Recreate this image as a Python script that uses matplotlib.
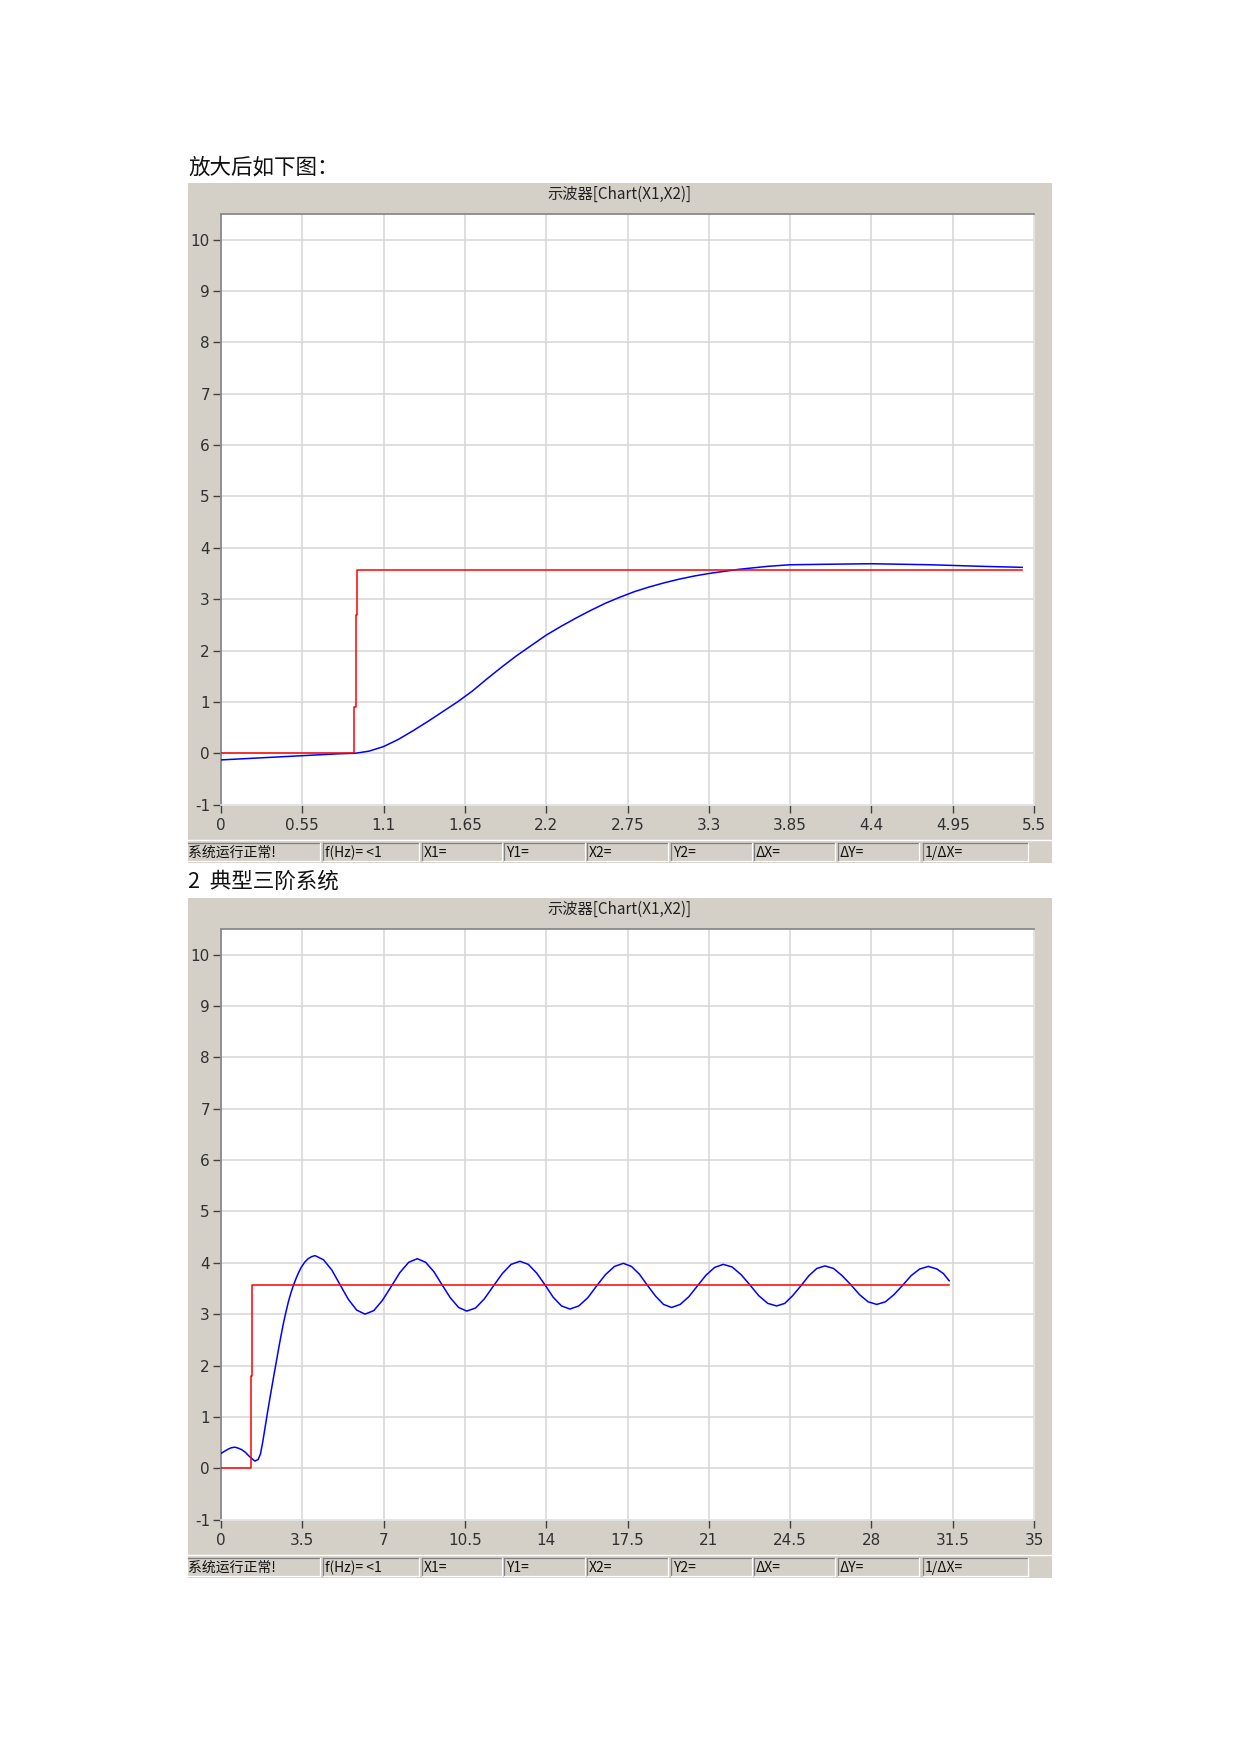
import matplotlib
matplotlib.use("Agg")
import matplotlib.pyplot as plt
from matplotlib.patches import Rectangle
from matplotlib.lines import Line2D

# ---------------- data ----------------
heading1 = "放大后如下图："
heading2 = "2  典型三阶系统"
chart_title = "示波器[Chart(X1,X2)]"
status_labels = ["系统运行正常!", "f(Hz)= <1", "X1=", "Y1=", "X2=", "Y2=", "ΔX=", "ΔY=", "1/ΔX="]

y_ticks = [-1, 0, 1, 2, 3, 4, 5, 6, 7, 8, 9, 10]
x1_ticks = [0, 0.55, 1.1, 1.65, 2.2, 2.75, 3.3, 3.85, 4.4, 4.95, 5.5]
x1_ticklabels = ["0", "0.55", "1.1", "1.65", "2.2", "2.75", "3.3", "3.85", "4.4", "4.95", "5.5"]
x2_ticks = [0, 3.5, 7, 10.5, 14, 17.5, 21, 24.5, 28, 31.5, 35]
x2_ticklabels = ["0", "3.5", "7", "10.5", "14", "17.5", "21", "24.5", "28", "31.5", "35"]

# chart 1 : input step (red) and response (blue)
red1_t = [0, 0.90, 0.91, 0.92, 5.42]
red1_y = [0, 0.9, 2.7, 3.57, 3.57]
blue1_t = [0, 0.2, 0.4, 0.6, 0.8, 0.91, 1.0, 1.1, 1.2, 1.3, 1.4, 1.5, 1.6, 1.7, 1.8,
           1.9, 2.0, 2.1, 2.2, 2.3, 2.4, 2.5, 2.6, 2.7, 2.8, 2.9, 3.0, 3.1, 3.2, 3.3,
           3.4, 3.5, 3.6, 3.7, 3.85, 4.1, 4.4, 4.8, 5.14, 5.42]
blue1_y = [-0.13, -0.10, -0.07, -0.04, -0.01, 0.0, 0.04, 0.13, 0.27, 0.44, 0.62, 0.81,
           1.00, 1.21, 1.45, 1.68, 1.90, 2.10, 2.30, 2.47, 2.63, 2.78, 2.92, 3.04,
           3.15, 3.24, 3.32, 3.39, 3.45, 3.50, 3.54, 3.58, 3.61, 3.64, 3.67, 3.68,
           3.69, 3.67, 3.64, 3.62]

# chart 2 : input step (red) and third-order response (blue)
red2_t = [0, 1.28, 1.35, 31.35]
red2_y = [0, 1.79, 3.57, 3.57]
blue2_t = [0, 0.15, 0.3, 0.45, 0.6, 0.75, 0.9, 1.05, 1.2, 1.32, 1.46,
           1.6, 1.7, 1.8, 1.9, 2.0, 2.1, 2.2, 2.3, 2.4, 2.5, 2.6, 2.7, 2.8, 2.9,
           3.0, 3.1, 3.2, 3.32, 3.45, 3.6, 3.75, 3.9, 4.05,
           4.41, 4.77, 5.13, 5.48, 5.84, 6.20,
           6.58, 6.95, 7.33, 7.70, 8.08, 8.45,
           8.81, 9.16, 9.52, 9.87, 10.23, 10.58,
           10.96, 11.34, 11.73, 12.11, 12.49, 12.87,
           13.23, 13.59, 13.95, 14.30, 14.66, 15.02,
           15.40, 15.79, 16.17, 16.55, 16.94, 17.32,
           17.67, 18.01, 18.36, 18.71, 19.05, 19.40,
           19.77, 20.14, 20.51, 20.88, 21.25, 21.62,
           22.00, 22.39, 22.77, 23.15, 23.54, 23.92,
           24.27, 24.61, 24.96, 25.31, 25.65, 26.00,
           26.37, 26.74, 27.12, 27.49, 27.86, 28.23,
           28.60, 28.97, 29.34, 29.71, 30.08, 30.45,
           30.82, 31.10, 31.35]
blue2_y = [0.29, 0.33, 0.37, 0.40, 0.41, 0.39, 0.36, 0.31, 0.24, 0.19, 0.14,
           0.17, 0.28, 0.52, 0.80, 1.08, 1.35, 1.61, 1.87, 2.12, 2.38, 2.62, 2.85,
           3.05, 3.24, 3.40, 3.54, 3.66, 3.79, 3.91, 4.01, 4.08, 4.12, 4.14,
           4.06, 3.86, 3.57, 3.29, 3.08, 3.00,
           3.07, 3.27, 3.54, 3.81, 4.01, 4.08,
           4.01, 3.83, 3.57, 3.32, 3.13, 3.06,
           3.12, 3.30, 3.55, 3.79, 3.97, 4.03,
           3.97, 3.80, 3.57, 3.33, 3.16, 3.10,
           3.16, 3.32, 3.55, 3.77, 3.93, 3.99,
           3.93, 3.78, 3.56, 3.35, 3.19, 3.13,
           3.19, 3.34, 3.55, 3.76, 3.91, 3.97,
           3.92, 3.77, 3.57, 3.36, 3.21, 3.16,
           3.21, 3.36, 3.55, 3.75, 3.89, 3.94,
           3.89, 3.75, 3.57, 3.38, 3.24, 3.19,
           3.24, 3.38, 3.56, 3.75, 3.88, 3.93,
           3.88, 3.79, 3.65]

# ---------------- layout ----------------
W, H = 1241, 1754
DPI = 100
fig = plt.figure(figsize=(W / DPI, H / DPI), dpi=DPI)
fig.patch.set_facecolor("white")

PANEL = "#d4d0c8"
CJK = ["Noto Sans CJK SC", "DejaVu Sans"]


def fx(x):
    return x / W


def fy(y):
    return 1 - y / H


def rect(x0, y0, x1, y1, **kw):
    fig.add_artist(Rectangle((fx(x0), fy(y1)), fx(x1) - fx(x0), fy(y0) - fy(y1),
                             transform=fig.transFigure, **kw))


def hline(x0, x1, y, color, lw=1.0):
    fig.add_artist(Line2D([fx(x0), fx(x1)], [fy(y), fy(y)], color=color, lw=lw,
                          transform=fig.transFigure))


def vline(x, y0, y1, color, lw=1.0):
    fig.add_artist(Line2D([fx(x), fx(x)], [fy(y0), fy(y1)], color=color, lw=lw,
                          transform=fig.transFigure))


box_x = [(188, 320), (323, 419), (422, 502), (504, 585), (587, 668), (671, 752),
         (754, 835), (838, 919), (923, 1028)]


def panel(off, xt, xtl, xmax, rt, ry, bt, by):
    # grey background
    rect(188, 183 + off, 1052, 863 + off, facecolor=PANEL, edgecolor="none", zorder=0)
    fig.text(fx(620), fy(194 + off), chart_title, ha="center", va="center",
             fontsize=11, family=CJK, color="#222222")
    # status bar
    hline(188, 1052, 840 + off, "#ffffff", 1.0)
    for i, ((a, b), lab) in enumerate(zip(box_x, status_labels)):
        y0, y1 = 843 + off, 861 + off
        hline(a, b, y0, "#808080", 0.9)
        if i > 0:
            vline(a, y0, y1, "#808080", 0.9)
        hline(a, b, y1, "#ffffff", 0.9)
        vline(b, y0, y1, "#ffffff", 0.9)
        fig.text(fx(a + (0 if i == 0 else 2)), fy((y0 + y1) / 2 + 1), lab,
                 ha="left", va="center", fontsize=10, family=CJK, color="#111111")

    ax = fig.add_axes([fx(221), fy(804.6 + off), fx(1034) - fx(221),
                       fy(214 + off) - fy(804.6 + off)])
    ax.set_facecolor("white")
    ax.set_xlim(0, xmax)
    ax.set_ylim(-1, 10.5)
    ax.set_xticks(xt)
    ax.set_xticklabels(xtl)
    ax.set_yticks(y_ticks)
    ax.set_yticklabels([str(v) for v in y_ticks])
    ax.grid(True, color="#d6d6d6", lw=1.1)
    ax.set_axisbelow(True)
    for s in ["left", "top"]:
        ax.spines[s].set_color("#8a8a8a")
        ax.spines[s].set_linewidth(1.3)
    for s in ["right", "bottom"]:
        ax.spines[s].set_color("#e6e6e6")
        ax.spines[s].set_linewidth(1.2)
    ax.tick_params(axis="both", direction="out", length=6, width=1.0,
                   color="#404040", labelsize=11, labelcolor="#303030", pad=2)
    ax.tick_params(axis="x", pad=4)
    for lab in ax.get_xticklabels() + ax.get_yticklabels():
        lab.set_family("DejaVu Sans")

    ax.plot(bt, by, color="#0000ff", lw=1.1, zorder=3)
    ax.plot(rt, ry, color="#ff0000", lw=1.1, drawstyle="steps-post", zorder=4)
    return ax


fig.text(fx(188), fy(167), heading1, ha="left", va="center", fontsize=15.5,
         family=CJK, color="#111111")
panel(0, x1_ticks, x1_ticklabels, 5.5, red1_t, red1_y, blue1_t, blue1_y)
fig.text(fx(188), fy(882), heading2, ha="left", va="center", fontsize=15.5,
         family=CJK, color="#111111")
panel(715, x2_ticks, x2_ticklabels, 35, red2_t, red2_y, blue2_t, blue2_y)

fig.savefig("out.png", dpi=DPI, facecolor="white")
